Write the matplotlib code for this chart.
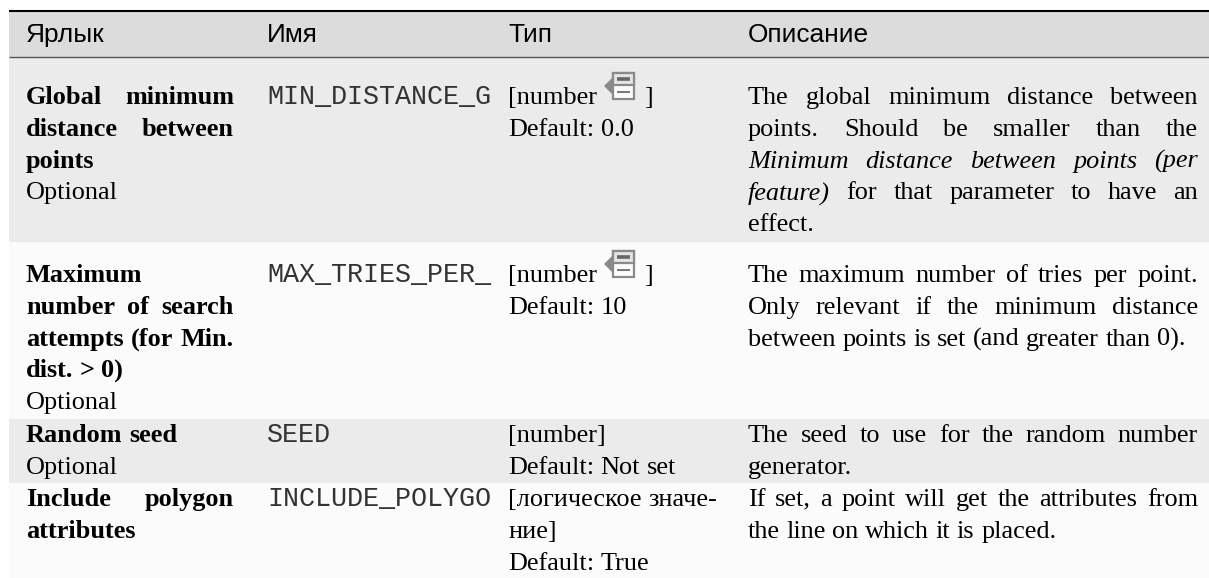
import matplotlib
matplotlib.use('Agg')
import matplotlib.pyplot as plt
from matplotlib.patches import Rectangle, Polygon

# * = bold, / = italic
headers = ['Ярлык', 'Имя', 'Тип', 'Описание']
label_lines = [
    ['*Global *minimum', '*distance *between', '*points', 'Optional'],
    ['*Maximum', '*number *of *search', '*attempts *(for *Min.', '*dist. *> *0)', 'Optional'],
    ['*Random *seed', 'Optional'],
    ['*Include *polygon', '*attributes'],
]
label_just = [[1, 1, 0, 0], [0, 1, 1, 0, 0], [0, 0], [1, 0]]
names = ['MIN_DISTANCE_G', 'MAX_TRIES_PER_', 'SEED', 'INCLUDE_POLYGO']
type_lines = [
    ['[number', 'Default: 0.0'],
    ['[number', 'Default: 10'],
    ['[number]', 'Default: Not set'],
    ['[логическое значе-', 'ние]', 'Default: True'],
]
has_icon = [True, True, False, False]
desc_lines = [
    ['The global minimum distance between',
     'points. Should be smaller than the',
     '/Minimum /distance /between /points /(per',
     '/feature) for that parameter to have an',
     'effect.'],
    ['The maximum number of tries per point.',
     'Only relevant if the minimum distance',
     'between points is set (and greater than 0).'],
    ['The seed to use for the random number',
     'generator.'],
    ['If set, a point will get the attributes from',
     'the line on which it is placed.'],
]
desc_just = [[1, 1, 1, 1, 0], [1, 1, 0], [1, 0], [1, 0]]

row_edges = [57, 242, 419, 483, 578]
first_baseline = [104, 282, 442, 506]
line_step = 31.8
col_x = [26, 267, 508, 748]
label_right = 234
desc_right = 1198
font_px = 26.2
font_pt = font_px * 0.72

fig = plt.figure(figsize=(12.09, 5.78), dpi=100)
ax = fig.add_axes([0, 0, 1, 1])
ax.set_xlim(0, 1209)
ax.set_ylim(578, 0)
ax.axis('off')
renderer = fig.canvas.get_renderer()


def put_word(x, y, word):
    style = {'family': 'Liberation Serif', 'fontsize': font_pt, 'color': 'black', 'va': 'baseline'}
    if word.startswith('*'):
        style['fontweight'] = 'bold'
        word = word[1:]
    elif word.startswith('/'):
        style['fontstyle'] = 'italic'
        word = word[1:]
    t = ax.text(x, y, word, **style)
    return t, t.get_window_extent(renderer).width


def draw_line(x, y, line, right=None):
    words = line.split(' ')
    placed = []
    for w in words:
        placed.append(put_word(x, y, w))
    total = sum(p[1] for p in placed)
    space = font_px * 0.25
    if right is not None and len(words) > 1:
        space = (right - x - total) / (len(words) - 1)
    cur = x
    for t, width in placed:
        t.set_x(cur)
        cur += width + space


def draw_icon(x, top):
    gray = '#8a8a8a'
    ax.add_patch(Polygon([(x, top + 14), (x + 9, top + 5), (x + 9, top + 23)], closed=True, fc=gray, ec='none'))
    ax.add_patch(Rectangle((x + 9, top + 1), 21, 26, fc='#fbfbfb', ec=gray, lw=1.6))
    ax.add_patch(Rectangle((x + 9, top + 1), 21, 12, fc='#e4e4e4', ec=gray, lw=1.6))
    ax.plot([x + 13, x + 26], [top + 7, top + 7], color='#666666', lw=2.6, solid_capstyle='butt')
    ax.plot([x + 13, x + 26], [top + 20, top + 20], color='#777777', lw=1.4, solid_capstyle='butt')


# bands
ax.add_patch(Rectangle((9, 10), 1200, 47, fc='#dcdcdc', ec='none'))
for i in range(4):
    color = '#ebebeb' if i % 2 == 0 else '#fbfbfb'
    ax.add_patch(Rectangle((9, row_edges[i]), 1200, row_edges[i + 1] - row_edges[i], fc=color, ec='none'))
ax.plot([9, 1209], [10.5, 10.5], color='black', lw=1.5, solid_capstyle='butt')
ax.plot([9, 1209], [57, 57], color='#555555', lw=1.0, solid_capstyle='butt')

for x, h in zip(col_x, headers):
    ax.text(x, 42, h, family='Liberation Sans', fontsize=font_pt, color='black', va='baseline')

for i in range(4):
    y0 = first_baseline[i]
    for j, line in enumerate(label_lines[i]):
        draw_line(col_x[0], y0 + j * line_step, line, label_right if label_just[i][j] else None)
    t = ax.text(col_x[1], y0, names[i], family='Liberation Mono', fontsize=font_pt * 1.02,
                color='#333333', va='baseline')
    t.set_clip_path(Rectangle((col_x[1] - 5, y0 - 30), 228, 45, transform=ax.transData))
    for j, line in enumerate(type_lines[i]):
        draw_line(col_x[2], y0 + j * line_step, line)
    if has_icon[i]:
        draw_icon(604, y0 - 32)
        draw_line(644, y0, ']')
    for j, line in enumerate(desc_lines[i]):
        draw_line(col_x[3], y0 + j * line_step, line, desc_right if desc_just[i][j] else None)

fig.savefig('out.png', dpi=100)
